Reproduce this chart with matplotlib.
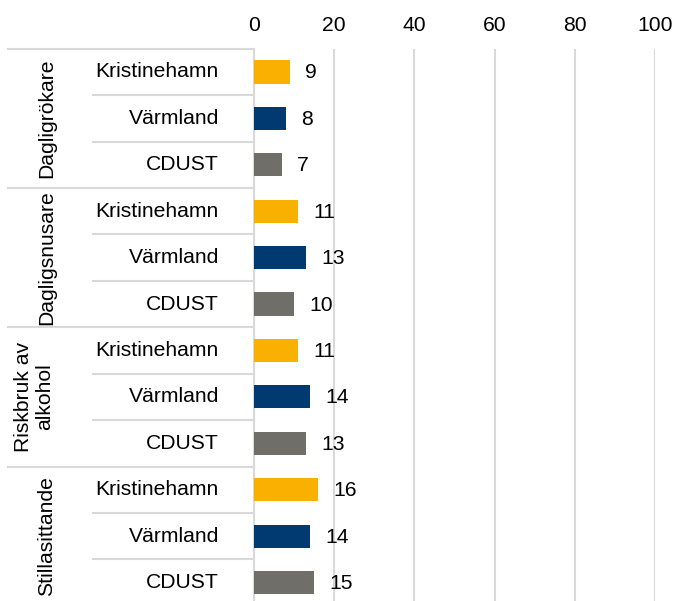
import matplotlib
matplotlib.use('Agg')
import matplotlib.pyplot as plt
import matplotlib.transforms as mtransforms

groups = ['Dagligrökare', 'Dagligsnusare', 'Riskbruk av\nalkohol', 'Stillasittande']
regions = ['Kristinehamn', 'Värmland', 'CDUST']
values = [
    [9, 8, 7],
    [11, 13, 10],
    [11, 14, 13],
    [16, 14, 15],
]
colors = ['#F9B000', '#003A70', '#6F6E68']
xticks = [0, 20, 40, 60, 80, 100]

grid_c = '#D9D9D9'
fs = 15.2
plt.rcParams['font.family'] = ['Liberation Sans', 'DejaVu Sans']

fig = plt.figure(figsize=(6.76, 6.01), dpi=100)
ax = fig.add_axes([254 / 676, -0.008, 401 / 676, 0.927])

n = len(regions)
ypos, vals, cols, labels = [], [], [], []
for g, row in enumerate(values):
    for r, v in enumerate(row):
        ypos.append(g * n + r)
        vals.append(v)
        cols.append(colors[r])
        labels.append(regions[r])

ax.barh(ypos, vals, height=0.5, color=cols, zorder=3)
for y, v in zip(ypos, vals):
    ax.annotate(str(v), (v, y), xytext=(15, -1), textcoords='offset pixels',
                ha='left', va='center', fontsize=fs, color='black', zorder=4)

ax.set_xlim(0, 100)
ax.set_ylim(len(ypos) - 0.5, -0.5)
ax.set_xticks(xticks)
ax.xaxis.tick_top()
ax.tick_params(axis='x', length=0, pad=10, labelsize=fs)
ax.set_yticks([])
ax.grid(axis='x', color=grid_c, linewidth=1.5, zorder=0)
for s in ['top', 'right', 'bottom']:
    ax.spines[s].set_visible(False)
ax.spines['left'].set_color(grid_c)
ax.spines['left'].set_linewidth(1.5)

trans = mtransforms.blended_transform_factory(ax.transAxes, ax.transData)
x_outer = (8 - 254) / 401
x_inner = (93 - 254) / 401
x_lab = (219 - 254) / 401

for y, lab in zip(ypos, labels):
    ax.text(x_lab, y, lab, transform=trans, ha='right', va='center', fontsize=fs)

for g, name in enumerate(groups):
    top = g * n - 0.5
    ax.plot([x_outer, 0], [top, top], transform=trans, color=grid_c, lw=1.5, clip_on=False)
    for r in range(1, n):
        ax.plot([x_inner, 0], [top + r, top + r], transform=trans, color=grid_c, lw=1.5, clip_on=False)
    gx = (34 - 254) / 401 if '\n' in name else (47 - 254) / 401
    ax.text(gx, g * n + 1, name, transform=trans, rotation=90, ha='center', va='center',
            multialignment='center', fontsize=fs, linespacing=1.15)

plt.savefig('out.png', dpi=100)
